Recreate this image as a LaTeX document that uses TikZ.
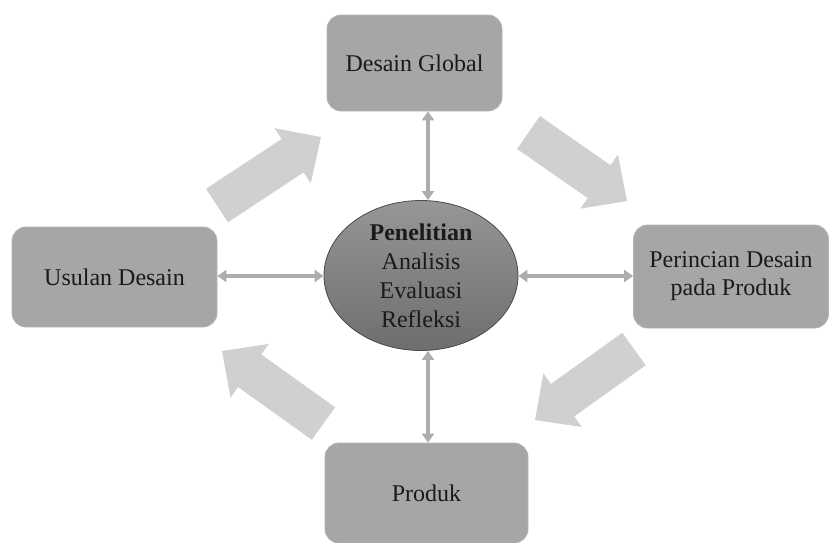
\documentclass[tikz,border=0pt]{standalone}
\usepackage{fontspec}
\setmainfont{Liberation Serif}
\usetikzlibrary{calc,shapes.geometric,arrows.meta}
\definecolor{boxgray}{HTML}{A6A6A6}
\definecolor{boxedge}{HTML}{B4B4B4}
\definecolor{bigarr}{HTML}{D0D0D0}
\definecolor{linkgray}{HTML}{ADADAD}
\definecolor{txt}{HTML}{1A1A1A}
\definecolor{elltop}{HTML}{969696}
\definecolor{ellbot}{HTML}{6E6E6E}
\definecolor{elledge}{HTML}{4A4A4A}
\newcommand\blockarrow[2]{%
  \coordinate (ba-B) at #1;
  \coordinate (ba-T) at #2;
  \coordinate (ba-H) at ($(ba-T)!34pt!(ba-B)$);
  \fill[bigarrowfill] ($(ba-B)!20pt!90:(ba-T)$) -- ($(ba-H)!20pt!90:(ba-T)$)
    -- ($(ba-H)!33pt!90:(ba-T)$) -- (ba-T) -- ($(ba-H)!33pt!-90:(ba-T)$)
    -- ($(ba-H)!20pt!-90:(ba-T)$) -- ($(ba-B)!20pt!-90:(ba-T)$) -- cycle;}
\begin{document}
\begin{tikzpicture}[x=1pt,y=1pt,
  box/.style={draw=boxedge, line width=0.8pt, fill=boxgray, rounded corners=14pt,
    text=txt, font=\fontsize{24}{28}\selectfont, align=center, inner sep=0pt},
  bigarrowfill/.style={fill=bigarr},
  link/.style={draw=linkgray, line width=3.4pt,
    {Triangle[width=12pt,length=9pt]}-{Triangle[width=12pt,length=9pt]}},
  hub/.style={ellipse, draw=elledge, line width=0.8pt, top color=elltop, bottom color=ellbot,
    minimum width=194pt, minimum height=150pt, inner sep=0pt, align=center, text=txt,
    font=\fontsize{24}{29}\selectfont}]
\useasboundingbox (0,0) rectangle (829,-542);
\clip (0,0) rectangle (829,-542);

% big block arrows
\blockarrow{(217,-205.5)}{(321,-137)}
\blockarrow{(528.5,-132.5)}{(627,-201)}
\blockarrow{(634,-349)}{(535,-420)}
\blockarrow{(323.5,-423.5)}{(222,-351)}

% boxes
\node[box, minimum width=175pt, minimum height=96pt] (glob) at (414.5,-63) {Desain Global};
\node[box, minimum width=205pt, minimum height=100pt] (usul) at (114.5,-277) {Usulan Desain};
\node[box, minimum width=195pt, minimum height=103pt] (peri) at (731,-276.5) {Perincian Desain\\pada Produk};
\node[box, minimum width=203pt, minimum height=100pt] (prod) at (426.5,-493) {Produk};

% hub
\node[hub] (ell) at (421,-275.5) {\textbf{Penelitian}\\Analisis\\Evaluasi\\Refleksi};

% links
\coordinate (vx) at (428,0);
\coordinate (hy) at (0,-276);
\draw[link] (glob.south -| vx) -- (ell.north -| vx);
\draw[link] (prod.north -| vx) -- (ell.south -| vx);
\draw[link] (usul.east |- hy) -- (ell.west |- hy);
\draw[link] (peri.west |- hy) -- (ell.east |- hy);
\end{tikzpicture}
\end{document}
